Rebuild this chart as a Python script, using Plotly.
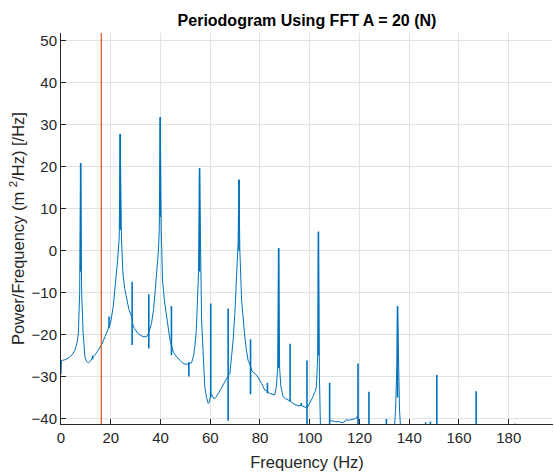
import plotly.graph_objects as go

# Continuous periodogram curve (frequency in Hz, power in dB)
curve_freq = [0.0, 0.2, 1.5, 3.0, 4.5, 5.6, 6.5, 7.0, 7.5, 7.9, 8.3, 8.9, 9.6, 10.3, 11.0, 12.0, 12.7, 13.5,
              15.0, 16.5, 17.7, 19.3, 20.0, 21.0, 22.0, 22.8, 23.4, 23.8, 24.3, 24.9, 25.6, 26.4, 27.3, 28.1,
              28.6, 28.9, 29.5, 31.0, 33.0, 34.5, 35.3, 36.4, 37.2, 37.8, 38.6, 39.2, 39.5, 39.9, 40.3, 40.8,
              41.6, 42.4, 43.2, 43.8, 44.4, 45.2, 46.5, 48.0, 49.1, 50.5, 51.4, 52.5, 53.3, 53.8, 54.4, 54.8,
              55.3, 55.7, 56.1, 56.5, 56.9, 57.4, 57.8, 58.5, 59.2, 59.7, 60.2, 60.8, 61.5, 62.2, 63.3, 64.5,
              65.5, 66.3, 67.2, 67.9, 68.6, 69.2, 69.9, 70.6, 71.2, 71.55, 71.9, 72.6, 73.2, 73.9, 74.5, 75.2,
              76.2, 76.8, 78.6, 79.6, 80.6, 81.9, 83.0, 83.9, 85.2, 85.9, 86.6, 87.1, 87.5, 87.9, 88.4, 89.3,
              90.3, 91.3, 92.1, 93.3, 95.3, 96.6, 98.0, 98.9, 99.4, 100.0, 101.3, 102.2, 102.7, 103.2, 103.5,
              103.9, 104.3, 105.5, 107.5, 108.0, 108.5, 109.5, 110.5, 111.5, 112.5, 113.5, 114.5, 115.5,
              116.5, 117.5, 118.5, 119.1, 119.8, 120.2, 133.8, 134.5, 135.0, 135.3, 135.6, 136.1, 136.8, 197.8]
curve_db = [-29.5, -26.2, -26.0, -25.6, -24.8, -23.7, -21.8, -19.6, -10.0, 20.8, -10.0, -19.6, -25.3, -26.4,
            -26.7, -26.2, -25.5, -25.0, -23.7, -22.2, -20.5, -18.1, -17.0, -13.3, -7.5, -2.0, 3.0, 27.8, 3.0,
            -5.3, -9.0, -11.8, -14.0, -15.3, -16.0, -17.7, -18.5, -19.8, -20.5, -20.5, -19.5, -17.3, -14.0,
            -10.1, -5.0, 0.2, 5.0, 31.8, 5.0, -7.0, -12.0, -15.7, -19.0, -21.3, -22.5, -24.2, -25.3, -26.3,
            -26.9, -27.1, -27.0, -26.7, -25.0, -22.9, -19.0, -13.3, -5.0, 19.6, -8.0, -16.0, -21.3, -28.0,
            -32.4, -35.0, -36.4, -36.0, -34.0, -34.5, -35.3, -35.0, -34.0, -32.8, -31.6, -30.8, -30.0, -29.2,
            -25.0, -21.3, -15.0, -7.0, 2.0, 16.9, 0.0, -11.8, -17.0, -20.5, -23.5, -26.1, -27.5, -28.7, -29.6,
            -30.5, -31.6, -33.2, -33.5, -34.0, -34.3, -34.4, -32.4, -28.0, 0.6, -28.0, -32.4, -34.8, -35.3,
            -35.6, -35.8, -36.4, -37.0, -36.9, -37.2, -37.5, -37.0, -36.4, -34.8, -33.5, -32.4, -25.0, 4.5,
            -30.0, -42.0, -45.0, -45.0, -40.5, -40.5, -40.6, -40.8, -40.7, -40.9, -41.0, -40.3, -40.4, -40.3,
            -40.2, -40.0, -39.5, -40.5, -45.0, -45.0, -38.0, -28.0, -13.2, -28.0, -38.0, -45.0, -45.0]

# Narrow spectral lines (frequency, top dB, bottom dB)
spike_freq = [7.9, 23.8, 39.9, 55.7, 71.55, 87.5, 103.5, 135.3, 12.7, 19.3, 28.6, 35.3, 44.4, 51.4, 60.2,
              67.2, 76.2, 83.0, 92.1, 96.6, 98.9, 108.0, 119.4, 123.8, 130.8, 146.6, 148.5, 151.1, 166.9, 182.7]
spike_top = [20.8, 27.8, 31.8, 19.6, 16.9, 0.6, 4.5, -13.2, -25.0, -15.7, -7.4, -10.4, -13.2, -26.5, -12.6,
             -13.8, -21.1, -31.5, -22.2, -36.3, -26.2, -31.5, -26.9, -33.6, -40.1, -40.9, -40.7, -29.6, -33.5, -41.2]
spike_bottom = [-5.0, 5.0, 8.0, -5.0, 0.0, -28.0, -25.0, -35.0, -25.9, -18.5, -22.5, -23.3, -24.9, -30.0, -35.0,
                -40.5, -34.2, -34.0, -36.0, -37.0, -45.0, -45.0, -45.0, -45.0, -45.0, -45.0, -45.0, -45.0, -45.0, -45.0]

marker_freq = 16.2  # vertical reference line (Hz)

x_range = [0, 197.8]
y_range = [-41.3, 51.85]
x_ticks = [0, 20, 40, 60, 80, 100, 120, 140, 160, 180]
y_ticks = [-40, -30, -20, -10, 0, 10, 20, 30, 40, 50]

blue = "#0072BD"
orange = "#D95319"
axis_col = "#262626"
grid_col = "#e1e1e1"
font_family = "Liberation Sans, Arial, Helvetica, sans-serif"

sx, sy = [], []
for f, t, b in zip(spike_freq, spike_top, spike_bottom):
    sx += [f, f, None]
    sy += [t, b, None]

fig = go.Figure()
fig.add_trace(go.Scatter(x=curve_freq, y=curve_db, mode="lines",
                         line=dict(color=blue, width=1), hoverinfo="skip", showlegend=False))
fig.add_trace(go.Scatter(x=sx, y=sy, mode="lines",
                         line=dict(color=blue, width=1.6), hoverinfo="skip", showlegend=False))
fig.add_shape(type="line", xref="x", yref="paper", x0=marker_freq, x1=marker_freq, y0=0, y1=1,
              line=dict(color=orange, width=1.2))

fig.update_layout(
    width=554, height=473,
    margin=dict(l=61, r=1, t=33, b=49),
    paper_bgcolor="white", plot_bgcolor="white",
    font=dict(family=font_family, size=15, color=axis_col),
    title=dict(text="<b>Periodogram Using FFT A = 20 (N)</b>", x=0.5, xref="paper",
               y=1 - 20 / 473, yref="container", yanchor="middle",
               font=dict(family=font_family, size=16, color="#000000")),
)
fig.update_xaxes(
    range=x_range, tickvals=x_ticks, ticks="inside", ticklen=5, tickcolor=axis_col,
    showline=True, linecolor=axis_col, linewidth=1, mirror=False,
    showgrid=True, gridcolor=grid_col, gridwidth=1, zeroline=False,
    tickfont=dict(size=15, color=axis_col),
    title=dict(text="Frequency (Hz)", font=dict(size=16.5, color=axis_col), standoff=11),
)
fig.update_yaxes(
    range=y_range, tickvals=y_ticks, ticks="inside", ticklen=5, tickcolor=axis_col,
    showline=True, linecolor=axis_col, linewidth=1, mirror=False,
    showgrid=True, gridcolor=grid_col, gridwidth=1, zeroline=False,
    tickfont=dict(size=15, color=axis_col),
    title=dict(text="Power/Frequency (m <sup>2</sup>/Hz) [/Hz]", font=dict(size=16.5, color=axis_col), standoff=2),
)

fig.write_html("out.html")
